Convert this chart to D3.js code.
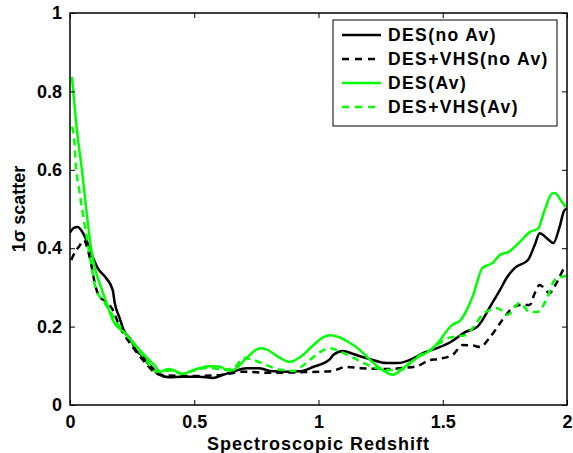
<!DOCTYPE html>
<html><head><meta charset="utf-8">
<script src="https://cdn.jsdelivr.net/npm/d3@7/dist/d3.min.js"></script>
<style>body{margin:0;background:#fff;} svg{display:block;} text{font-family:"Liberation Sans",Arial,sans-serif;font-weight:bold;}</style>
</head><body>
<svg id="c" width="573" height="453"></svg>
<script>
const xTicks = [0, 0.5, 1, 1.5, 2];
const yTicks = [0, 0.2, 0.4, 0.6, 0.8, 1];
const seriesNames = ["DES(no Av)", "DES+VHS(no Av)", "DES(Av)", "DES+VHS(Av)"];
const seriesColors = ["#000000", "#000000", "#00ff00", "#00ff00"];
const seriesDashed = [false, true, false, true];

const desNoAv = [[0,0.44],[0.015,0.452],[0.031,0.454],[0.051,0.44],[0.071,0.413],[0.091,0.378],[0.111,0.35],[0.145,0.324],[0.172,0.293],[0.18,0.26],[0.198,0.225],[0.217,0.19],[0.245,0.166],[0.265,0.14],[0.286,0.128],[0.313,0.107],[0.333,0.094],[0.354,0.079],[0.4,0.071],[0.45,0.072],[0.52,0.072],[0.575,0.069],[0.616,0.077],[0.656,0.085],[0.71,0.094],[0.76,0.094],[0.805,0.087],[0.873,0.085],[0.926,0.086],[0.978,0.097],[1.046,0.117],[1.06,0.128],[1.10,0.138],[1.14,0.13],[1.207,0.117],[1.275,0.107],[1.32,0.107],[1.368,0.115],[1.42,0.132],[1.477,0.145],[1.53,0.16],[1.59,0.186],[1.64,0.2],[1.66,0.217],[1.69,0.25],[1.73,0.293],[1.76,0.327],[1.79,0.35],[1.843,0.37],[1.87,0.408],[1.89,0.438],[1.92,0.425],[1.945,0.413],[1.97,0.454],[1.99,0.497],[2.0,0.5]];
const desVhsNoAv = [[0.005,0.37],[0.02,0.39],[0.036,0.404],[0.056,0.42],[0.07,0.40],[0.085,0.36],[0.1,0.31],[0.12,0.275],[0.15,0.262],[0.17,0.245],[0.2,0.2],[0.25,0.15],[0.3,0.11],[0.35,0.08],[0.4,0.075],[0.5,0.074],[0.6,0.076],[0.7,0.085],[0.8,0.082],[0.9,0.083],[1.0,0.085],[1.05,0.086],[1.11,0.097],[1.17,0.094],[1.275,0.092],[1.35,0.095],[1.4,0.1],[1.45,0.115],[1.477,0.117],[1.54,0.128],[1.58,0.153],[1.62,0.152],[1.65,0.148],[1.69,0.173],[1.74,0.217],[1.78,0.247],[1.81,0.255],[1.85,0.255],[1.87,0.285],[1.89,0.306],[1.93,0.286],[1.96,0.314],[1.99,0.35],[2.0,0.355]];
const desAv = [[0.008,0.837],[0.028,0.70],[0.048,0.60],[0.067,0.49],[0.085,0.40],[0.1,0.35],[0.125,0.30],[0.15,0.255],[0.172,0.217],[0.22,0.184],[0.27,0.148],[0.31,0.12],[0.346,0.097],[0.36,0.084],[0.395,0.092],[0.42,0.088],[0.45,0.079],[0.5,0.09],[0.56,0.099],[0.6,0.098],[0.644,0.087],[0.66,0.09],[0.71,0.12],[0.765,0.145],[0.79,0.142],[0.845,0.12],[0.885,0.11],[0.926,0.122],[0.98,0.153],[1.02,0.173],[1.046,0.178],[1.087,0.172],[1.127,0.158],[1.167,0.14],[1.207,0.115],[1.247,0.094],[1.30,0.077],[1.34,0.094],[1.396,0.12],[1.45,0.14],[1.49,0.166],[1.517,0.19],[1.54,0.205],[1.57,0.215],[1.62,0.276],[1.66,0.35],[1.70,0.362],[1.73,0.383],[1.763,0.39],[1.81,0.416],[1.85,0.441],[1.883,0.45],[1.91,0.497],[1.94,0.54],[1.95,0.541],[1.98,0.518],[1.995,0.505]];
const desVhsAv = [[0.008,0.71],[0.017,0.676],[0.024,0.607],[0.037,0.548],[0.051,0.49],[0.071,0.413],[0.089,0.344],[0.105,0.293],[0.125,0.273],[0.15,0.25],[0.2,0.2],[0.25,0.16],[0.3,0.12],[0.35,0.085],[0.4,0.088],[0.45,0.08],[0.5,0.088],[0.56,0.095],[0.62,0.09],[0.66,0.095],[0.7,0.12],[0.737,0.115],[0.79,0.102],[0.845,0.09],[0.9,0.087],[0.95,0.107],[1.006,0.135],[1.046,0.145],[1.08,0.138],[1.14,0.12],[1.207,0.1],[1.275,0.089],[1.33,0.089],[1.396,0.123],[1.45,0.14],[1.517,0.17],[1.557,0.175],[1.59,0.178],[1.62,0.196],[1.66,0.23],[1.72,0.247],[1.76,0.23],[1.81,0.26],[1.85,0.237],[1.88,0.237],[1.92,0.273],[1.95,0.319],[1.98,0.327],[2.0,0.33]];
const seriesData = [desNoAv, desVhsNoAv, desAv, desVhsAv];

const svg = d3.select("#c");
const L = 70, R = 567, T = 13, B = 405;
const x = d3.scaleLinear().domain([0, 2]).range([L, R]);
const y = d3.scaleLinear().domain([0, 1]).range([B, T]);

const plot = svg.append("g");
svg.append("clipPath").attr("id","clip").append("rect").attr("x",L).attr("y",T).attr("width",R-L).attr("height",B-T);

const line = d3.line().x(d=>x(d[0])).y(d=>y(d[1])).curve(d3.curveMonotoneX);
seriesData.forEach((s,i)=>{
  plot.append("path").attr("d", line(s)).attr("fill","none")
    .attr("stroke", seriesColors[i]).attr("stroke-width", 2.5)
    .attr("stroke-dasharray", seriesDashed[i] ? "7,5" : null)
    .attr("clip-path","url(#clip)");
});

// axes (ticks inward)
const fs = 18;
const gx = svg.append("g").attr("transform",`translate(0,${B})`).call(d3.axisBottom(x).tickValues(xTicks).tickSize(-5).tickPadding(10).tickFormat(d3.format("")));
const gxt = svg.append("g").attr("transform",`translate(0,${T})`).call(d3.axisTop(x).tickValues(xTicks).tickSize(-5).tickFormat(""));
const gy = svg.append("g").attr("transform",`translate(${L},0)`).call(d3.axisLeft(y).tickValues(yTicks).tickSize(-5).tickPadding(8).tickFormat(d3.format("")));
const gyr = svg.append("g").attr("transform",`translate(${R},0)`).call(d3.axisRight(y).tickValues(yTicks).tickSize(-5).tickFormat(""));
[gx,gxt,gy,gyr].forEach(g=>{
  g.select(".domain").remove();
  g.selectAll("line").attr("stroke","#000").attr("stroke-width",1);
  g.selectAll("text").attr("font-size",fs).attr("font-family","Liberation Sans, Arial, sans-serif").attr("font-weight","bold").attr("fill","#000");
});
svg.append("rect").attr("x",L).attr("y",T).attr("width",R-L).attr("height",B-T).attr("fill","none").attr("stroke","#000").attr("stroke-width",1.5);

svg.append("text").attr("x",(L+R)/2).attr("y",450).attr("text-anchor","middle").attr("font-size",18).attr("letter-spacing","1").text("Spectroscopic Redshift");
svg.append("text").attr("transform",`translate(25,${(T+B)/2}) rotate(-90)`).attr("text-anchor","middle").attr("font-size",18).text("1σ scatter");

// legend
const lg = svg.append("g");
lg.append("rect").attr("x",333).attr("y",20).attr("width",224).attr("height",106).attr("fill","#fff").attr("stroke","#000").attr("stroke-width",1);
seriesNames.forEach((n,i)=>{
  const yy = 35 + i*24;
  lg.append("line").attr("x1",342).attr("x2",381).attr("y1",yy).attr("y2",yy)
    .attr("stroke",seriesColors[i]).attr("stroke-width",2.5).attr("stroke-dasharray", seriesDashed[i] ? "7,6" : null);
  lg.append("text").attr("x",388).attr("y",yy+6).attr("font-size",17.5).attr("letter-spacing","1.4").text(n);
});
</script>
</body></html>
